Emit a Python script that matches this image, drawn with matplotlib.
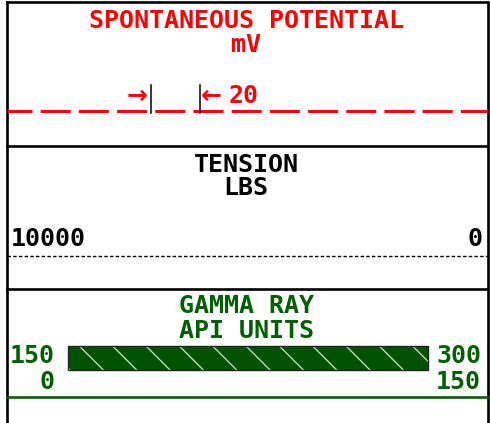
import matplotlib
matplotlib.use("Agg")
import matplotlib.pyplot as plt
from matplotlib.patches import Rectangle

plt.rcParams['lines.scale_dashes'] = False

# track header contents
sp_title = ["SPONTANEOUS POTENTIAL", "mV"]
sp_div_mv = 20
tension_title = ["TENSION", "LBS"]
tension_scale = [10000, 0]
gr_title = ["GAMMA RAY", "API UNITS"]
gr_left = [150, 0]
gr_right = [300, 150]

RED = "#ff0000"
GREEN = "#006000"
FONT = dict(family="DejaVu Sans Mono", weight="bold", fontsize=18)

W, H = 490, 423
fig = plt.figure(figsize=(W / 100, H / 100), dpi=100)
ax = fig.add_axes([0, 0, 1, 1])
ax.set_xlim(0, W)
ax.set_ylim(H, 0)
ax.axis("off")

# frame and track dividers
xl, xr = 7, 487.5
ax.plot([xl, xl], [2.5, H], color="black", lw=1.9)
ax.plot([xr, xr], [2.5, H], color="black", lw=1.9)
for y in [2.5, 146, 289]:
    ax.plot([xl, xr - 1.5], [y, y], color="black", lw=1.9)

cx = 246

# --- spontaneous potential
ax.text(cx, 28, sp_title[0], color=RED, ha="center", va="baseline", **FONT)
ax.text(cx, 52, sp_title[1], color=RED, ha="center", va="baseline", **FONT)
ax.plot([xl, xr - 1], [111.5, 111.5], color=RED, lw=2.2,
        linestyle=(3.6, (21.6, 5.9)))
x0 = 151
div_px = 48.5
for xt in [x0, x0 + div_px]:
    ax.plot([xt, xt], [85, 113], color="black", lw=1.1)
ax.text(x0 - 3, 103, "\u2192", color=RED, ha="right", va="baseline",
        family="DejaVu Sans", weight="bold", fontsize=18)
ax.text(x0 + div_px + 1.5, 103, "\u2190", color=RED, ha="left", va="baseline",
        family="DejaVu Sans", weight="bold", fontsize=18)
ax.text(x0 + div_px + 29, 103, str(sp_div_mv), color=RED, ha="left",
        va="baseline", **FONT)

# --- tension
ax.text(cx, 172, tension_title[0], color="black", ha="center", va="baseline", **FONT)
ax.text(cx, 195, tension_title[1], color="black", ha="center", va="baseline", **FONT)
ax.text(11, 246, str(tension_scale[0]), color="black", ha="left", va="baseline", **FONT)
ax.text(482, 246, str(tension_scale[1]), color="black", ha="right", va="baseline", **FONT)
ax.plot([xl, xr - 1], [256, 256], color="black", lw=1.0, dashes=(2.5, 1.6))

# --- gamma ray
ax.text(cx, 313, gr_title[0], color=GREEN, ha="center", va="baseline", **FONT)
ax.text(cx, 338, gr_title[1], color=GREEN, ha="center", va="baseline", **FONT)
bar_x0, bar_x1 = 67.5, 428
ax.barh(358, bar_x1 - bar_x0, left=bar_x0, height=23.5, color="#005200",
        edgecolor="#b8dcb8", hatch="\\", lw=0)
ax.add_patch(Rectangle((bar_x0, 346.25), bar_x1 - bar_x0, 23.5, fill=False,
                       edgecolor="#222222", lw=1.0))
ax.text(54.5, 363, str(gr_left[0]), color=GREEN, ha="right", va="baseline", **FONT)
ax.text(54.5, 389, str(gr_left[1]), color=GREEN, ha="right", va="baseline", **FONT)
ax.text(481, 363, str(gr_right[0]), color=GREEN, ha="right", va="baseline", **FONT)
ax.text(481, 389, str(gr_right[1]), color=GREEN, ha="right", va="baseline", **FONT)
ax.plot([xl, xr - 1], [397, 397], color=GREEN, lw=1.9)

fig.savefig("out.png", dpi=100)
